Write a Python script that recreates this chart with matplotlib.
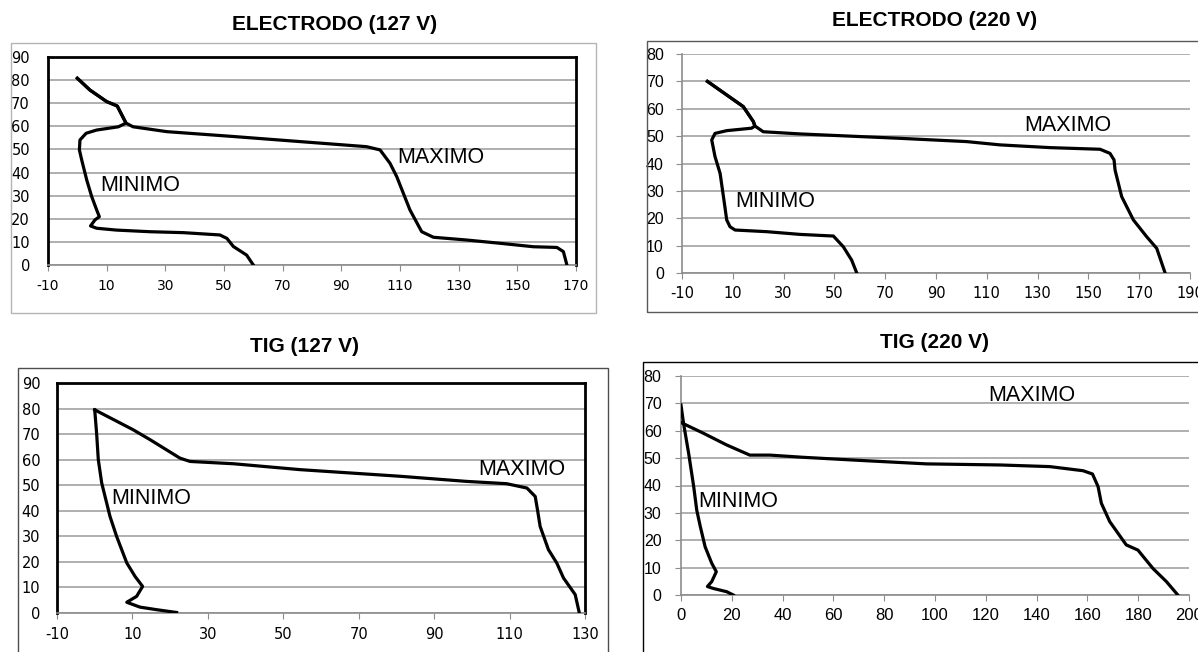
import matplotlib
matplotlib.use("Agg")
import matplotlib.pyplot as plt
from matplotlib.patches import Rectangle

plt.rcParams["font.family"] = ["Liberation Sans", "DejaVu Sans"]
plt.rcParams["axes.unicode_minus"] = False

# ELECTRODO (127 V)
e127_min_x = [0, 4.3, 10, 13.6, 16.6, 14, 6.6, 3, 0.9, 0.7, 1.5, 3.2, 4.9, 6.6, 7.5, 6, 4.5, 6.6, 13.4, 24.8, 36.1, 48.6, 51, 53.2, 57.7, 60]
e127_min_y = [80.8, 75.7, 70.7, 68.8, 61.4, 59.8, 58.4, 57, 54.1, 49.8, 45.4, 36.8, 29.6, 23.8, 20.9, 19.5, 16.9, 15.9, 15.1, 14.4, 14, 13, 11.5, 8, 4.3, 0]
e127_max_x = [0, 4.3, 10, 13.6, 16.6, 19, 30.5, 53.2, 75.9, 98.6, 103.2, 106.6, 108.9, 113.4, 117.4, 121.4, 132.8, 144.1, 155.5, 163.5, 165.7, 166.9]
e127_max_y = [80.8, 75.7, 70.7, 68.8, 61.4, 59.8, 57.7, 55.6, 53.4, 51.2, 49.8, 44, 38.2, 23.8, 14.4, 12, 10.8, 9.4, 7.9, 7.6, 5.8, 0]

# ELECTRODO (220 V)
e220_min_x = [0, 14.1, 18.1, 18.7, 17.4, 7.6, 3, 1.7, 3, 5, 6.5, 7.6, 8.9, 10.9, 23.3, 36.5, 49.6, 53.5, 56.8, 58.8]
e220_min_y = [70, 60.8, 55.3, 53.7, 52.9, 52, 51, 48.6, 42.5, 36.4, 26.7, 19.4, 16.9, 15.7, 15.1, 14.1, 13.5, 9.6, 4.7, 0]
e220_max_x = [0, 14.1, 18.1, 18.7, 22, 36.5, 75.8, 102.1, 115.2, 134.9, 154.6, 158.5, 160.1, 160.5, 163.1, 167.7, 172.9, 176.9, 180.2]
e220_max_y = [70, 60.8, 55.3, 53.7, 51.6, 50.8, 49.2, 48, 46.8, 45.8, 45.2, 43.7, 41.3, 37.6, 27.9, 19.4, 13.3, 9, 0]

# TIG (127 V)
t127_min_x = [0, 0.5, 0.95, 1.85, 4.05, 5.8, 8.5, 10.7, 12.7, 11.1, 8.5, 12, 16.4, 21.7]
t127_min_y = [79.5, 70.4, 60, 50.9, 37.8, 30, 19.6, 14.3, 10.4, 6.5, 4.2, 2.3, 1.3, 0.2]
t127_max_x = [0, 10.2, 14.7, 22.6, 25.3, 36.8, 54.4, 81, 98.6, 109.2, 114.6, 116.8, 117.4, 118.1, 120.3, 122.5, 124.3, 127.4, 128.3, 128.5]
t127_max_y = [79.5, 71.7, 67.8, 60.6, 59.3, 58.4, 56.1, 53.5, 51.5, 50.6, 48.9, 45.6, 40.4, 33.9, 24.8, 19.6, 13.7, 7.2, 1.3, 0]

# TIG (220 V)
t220_min_x = [0, 1, 3, 5, 6.2, 7.6, 9.5, 12.1, 13.9, 12.1, 10.4, 12.7, 18, 20.6]
t220_min_y = [69.4, 62.7, 51.8, 39.6, 31, 25, 17.6, 11.6, 8.5, 4.9, 3.1, 2.4, 1.2, 0]
t220_max_x = [0, 8.8, 18, 27.1, 35, 48.1, 67.8, 96.6, 125.6, 145.2, 158.3, 162, 164.2, 165.5, 168.8, 175.3, 179.9, 185.8, 191.1, 195.6]
t220_max_y = [63, 59.1, 54.8, 51.1, 51.1, 50.3, 49.3, 47.9, 47.5, 46.9, 45.4, 44.2, 39.6, 33.5, 26.8, 18.3, 16.4, 9.7, 4.9, 0]

W, H = 1198, 652
fig = plt.figure(figsize=(W / 100, H / 100), dpi=100)


def px_box(l, t, r, b):
    return [l / W, 1 - b / H, (r - l) / W, (b - t) / H]


def frame(l, t, r, b, color):
    fig.patches.append(Rectangle((l / W, 1 - b / H), (r - l) / W, (b - t) / H,
                                 transform=fig.transFigure, fill=False,
                                 edgecolor=color, lw=1))


def panel(box, title, title_xy, mn, mx, xlim, ylim, xstep, min_lbl, max_lbl,
          boxed, ypad, xfs, xfont):
    ax = fig.add_axes(px_box(*box))
    ax.plot(mn[0], mn[1], color="black", lw=2.3, solid_joinstyle="round", zorder=3)
    ax.plot(mx[0], mx[1], color="black", lw=2.3, solid_joinstyle="round", zorder=3)
    ax.set_xlim(*xlim)
    ax.set_ylim(*ylim)
    ax.set_xticks(range(xlim[0], xlim[1] + 1, xstep))
    ax.set_yticks(range(0, ylim[1] + 1, 10))
    ax.yaxis.grid(True, color="#9a9a9a", lw=1.1)
    ax.set_axisbelow(True)
    for lab in ax.get_xticklabels():
        lab.set_fontfamily(xfont)
        lab.set_fontsize(xfs)
    if boxed:
        for s in ["left", "top", "right"]:
            ax.spines[s].set_color("black")
            ax.spines[s].set_linewidth(2)
        ax.spines["bottom"].set_color("#8c8c8c")
        ax.spines["bottom"].set_linewidth(1.2)
        ax.tick_params(axis="y", length=0, pad=ypad, labelsize=10.5)
        ax.tick_params(axis="x", length=4, color="#8c8c8c", pad=6)
        for lab in ax.get_yticklabels():
            lab.set_fontfamily("DejaVu Sans")
    else:
        for s in ["top", "right"]:
            ax.spines[s].set_visible(False)
        for s in ["left", "bottom"]:
            ax.spines[s].set_color("#8c8c8c")
            ax.spines[s].set_linewidth(1.2)
        ax.tick_params(axis="y", length=4, color="#8c8c8c", pad=ypad, labelsize=11.5)
        ax.tick_params(axis="x", length=4, color="#8c8c8c", pad=5)
    ax.text(min_lbl[0], min_lbl[1], "MINIMO", fontsize=15.5, va="center", ha="left")
    ax.text(max_lbl[0], max_lbl[1], "MAXIMO", fontsize=15.5, va="center", ha="left")
    fig.text(title_xy[0] / W, 1 - title_xy[1] / H, title, fontsize=15,
             fontweight="bold", ha="center", va="center")
    return ax


# outer chart frames
frame(11, 43, 596, 313, "#b4b4b4")
frame(647, 41, 1210, 312, "#595959")
frame(18, 368, 608, 665, "#4d4d4d")
frame(643, 362, 1210, 665, "black")

panel((48, 57, 576, 265), "ELECTRODO (127 V)", (335, 25),
      (e127_min_x, e127_min_y), (e127_max_x, e127_max_y),
      (-10, 170), (0, 90), 20, (7.7, 34.6), (108.9, 46.3), True, 13, 10, "DejaVu Sans")
panel((682, 54, 1190, 273), "ELECTRODO (220 V)", (935, 20),
      (e220_min_x, e220_min_y), (e220_max_x, e220_max_y),
      (-10, 190), (0, 80), 20, (10.9, 26), (124.6, 53.7), False, 9, 10.5, "DejaVu Sans")
panel((57, 383, 585, 613), "TIG (127 V)", (305, 346),
      (t127_min_x, t127_min_y), (t127_max_x, t127_max_y),
      (-10, 130), (0, 90), 20, (4.3, 45), (101.7, 56), True, 12, 10.5, "DejaVu Sans")
panel((681, 376, 1189, 595), "TIG (220 V)", (934, 343),
      (t220_min_x, t220_min_y), (t220_max_x, t220_max_y),
      (0, 200), (0, 80), 20, (6.9, 34.1), (121, 72.7), False, 10, 12, "Liberation Sans")

fig.savefig("out.png", dpi=100)
